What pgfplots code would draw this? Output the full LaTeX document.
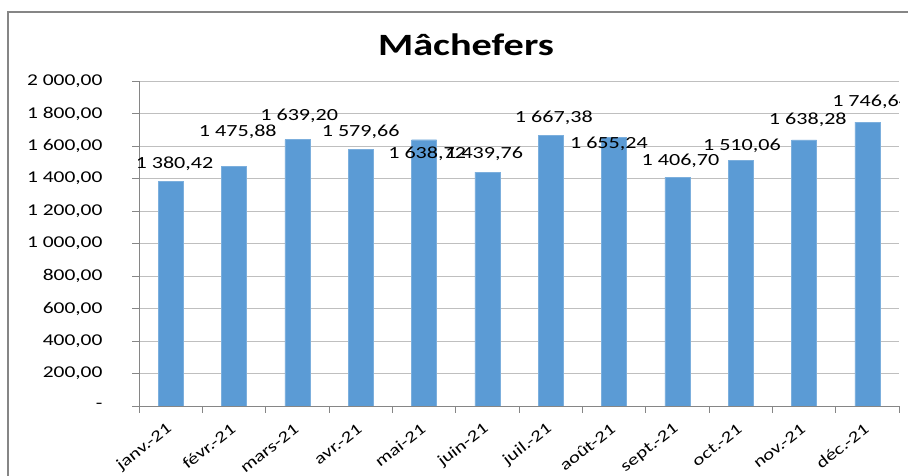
\documentclass[border=0pt]{standalone}
\usepackage{pgfplots}
\pgfplotsset{compat=1.18}
\usepackage{fontspec}
\setmainfont[FakeStretch=1.3]{Carlito}
\definecolor{barblue}{HTML}{5B9BD5}
\definecolor{gridgray}{HTML}{BFBFBF}
\definecolor{axgray}{HTML}{868686}

\begin{document}
\begin{tikzpicture}
  \path[use as bounding box] (0pt,0pt) rectangle (908pt,476pt);
  \draw[axgray, line width=1.2pt] (8pt,0pt) -- (8pt,464pt) -- (908pt,464pt);
  \node[font=\fontsize{31}{33}\selectfont\bfseries] at (466pt,431pt) {Mâchefers};
  \begin{axis}[
    at={(139pt,70pt)}, anchor=south west,
    scale only axis, width=760pt, height=325pt,
    xmin=-0.5, xmax=11.5, ymin=0, ymax=2000,
    axis lines*=left,
    axis line style={axgray, line width=0.8pt},
    ymajorgrids, grid style={gridgray, line width=0.8pt},
    ytick={0,200,...,2000},
    yticklabels={{-},{200,00},{400,00},{600,00},{800,00},{1 000,00},{1 200,00},{1 400,00},{1 600,00},{1 800,00},{2 000,00}},
    yticklabel style={font=\fontsize{16.5}{18}\selectfont, xshift=-26pt},
    xtick={-0.5,0.5,...,11.5},
    x tick label as interval,
    xticklabels={janv.-21,févr.-21,mars-21,avr.-21,mai-21,juin-21,juil.-21,août-21,sept.-21,oct.-21,nov.-21,déc.-21},
    xticklabel style={font=\fontsize{16}{18}\selectfont, xshift=2pt, yshift=-12pt, rotate=38, anchor=east},
    tick style={axgray, line width=0.8pt},
    major tick length=7pt,
    tick align=outside,
  ]
    \addplot[ybar, bar width=25pt, fill=barblue, draw=barblue!80!white]
      coordinates {(0,1380.42)(1,1475.88)(2,1639.20)(3,1579.66)(4,1638.72)(5,1439.76)
                   (6,1667.38)(7,1655.24)(8,1406.70)(9,1510.06)(10,1638.28)(11,1746.64)};
    \begin{scope}[every node/.style={font=\fontsize{17}{19}\selectfont}]
      \node at (axis cs:0.06,1489) {1 380,42};
      \node at (axis cs:1.06,1686) {1 475,88};
      \node at (axis cs:2.03,1785) {1 639,20};
      \node at (axis cs:3.0,1686) {1 579,66};
      \node at (axis cs:4.05,1551) {1 638,72};
      \node at (axis cs:4.95,1551) {1 439,76};
      \node at (axis cs:6.05,1772) {1 667,38};
      \node at (axis cs:6.92,1612) {1 655,24};
      \node at (axis cs:8.05,1508) {1 406,70};
      \node at (axis cs:9.02,1600) {1 510,06};
      \node at (axis cs:10.06,1760) {1 638,28};
      \node at (axis cs:11.06,1871) {1 746,64};
    \end{scope}
  \end{axis}
\end{tikzpicture}
\end{document}
